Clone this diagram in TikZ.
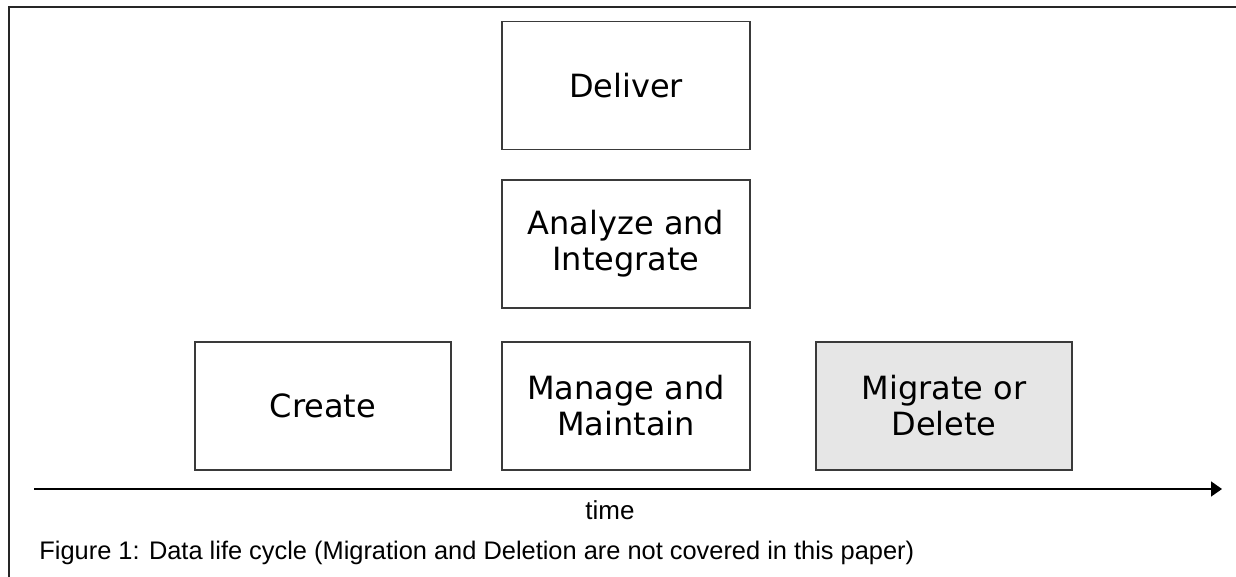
\documentclass[tikz,border=0pt]{standalone}
\usepackage{fontspec}
\setmainfont{DejaVu Sans}
\newfontfamily\capfont{Liberation Sans}
\usetikzlibrary{arrows.meta,positioning}
\definecolor{boxgray}{HTML}{E6E6E6}
\definecolor{edgegray}{HTML}{3A3A3A}

\begin{document}
\begin{tikzpicture}[x=0.5pt,y=-0.5pt,
  stage/.style={draw=edgegray,line width=0.55pt,align=center,inner sep=0pt,
    minimum height=64pt,font=\fontsize{16}{18}\selectfont},
  tl/.style={-{Triangle[length=5.5pt,width=7.5pt]},line width=0.8pt,black}]
\useasboundingbox (0,0) rectangle (1236,577);
% frame (open on the right and at the bottom)
\draw[line width=1.1pt,black!85] (9,577) |- (1236,7);
% stages
\node[stage,minimum width=124pt] (deliver) at (626,85.5) {Deliver};
\node[stage,minimum width=124pt] (analyze) at (626,244) {Analyze and\\Integrate};
\node[stage,minimum width=124pt] (manage) at (626,406) {Manage and\\Maintain};
\node[stage,minimum width=128pt] (create) at (323,406) {Create};
\node[stage,minimum width=128pt,fill=boxgray] (migrate) at (944,406) {Migrate or\\Delete};
% time axis
\coordinate (t0) at (34,489);
\coordinate (t1) at (1222,489);
\draw[tl] (t0) -- (t1);
\node[font=\capfont\fontsize{13}{15}\selectfont] (time) at (610,510) {time};
\node[anchor=west,inner sep=0pt,font=\capfont\fontsize{12.7}{15}\selectfont] (caption) at (39,553)
  {Figure 1: Data life cycle (Migration and Deletion are not covered in this paper)};
\end{tikzpicture}
\end{document}
